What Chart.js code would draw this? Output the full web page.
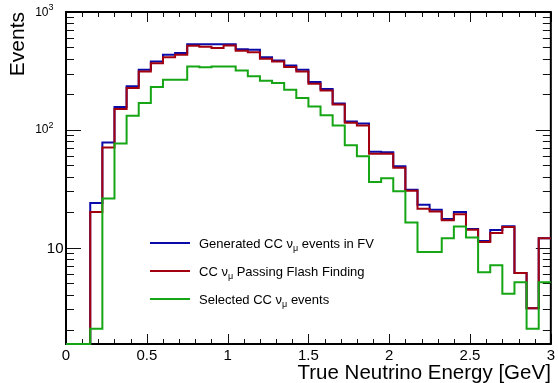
<!DOCTYPE html>
<html>
<head>
<meta charset="utf-8">
<script src="https://cdn.jsdelivr.net/npm/chart.js@4"></script>
<style>
  html, body { margin: 0; padding: 0; background: #fff; }
  #wrap { width: 558px; height: 383px; position: relative; }
</style>
</head>
<body>
<div id="wrap"><canvas id="myChart"></canvas></div>
<script>
// histogram binning: 40 bins of 0.075 GeV from 0 to 3
const binWidth = 0.075;

// events per bin (0 = empty bin)
const generatedFV = [0, 0, 24, 78, 156, 234, 323, 380, 433, 448,
  533, 533, 532, 533, 484, 478, 414, 388, 352, 323,
  255, 222, 167, 118, 113, 65.2, 64.6, 49.2, 31, 23.1,
  21, 17.5, 20.1, 14.4, 11.4, 14.1, 15.2, 6.1, 3.07, 12.05];
const passingFlash = [0, 0, 20.1, 70.8, 150, 226, 313, 368, 414, 433,
  516, 506, 494, 519, 468, 456, 401, 380, 341, 313,
  246, 216, 164, 115, 109, 62.7, 62.7, 47.7, 30.4, 21.4,
  20.3, 17.1, 19.2, 14.2, 11.2, 13.3, 15.0, 6.1, 3.07, 12.05];
const selectedCC = [0, 0, 2.05, 26.1, 76.6, 132, 169, 231, 266, 266,
  345, 340, 345, 345, 319, 285, 261, 250, 219, 186,
  158, 133, 109, 74.1, 59.8, 36.1, 38.8, 30.1, 16.4, 9.2,
  9.2, 12.05, 15.1, 12.2, 6.2, 7.1, 4.06, 5.1, 2.05, 5.1];

const seriesNames = ['Generated CC ν_μ events in FV', 'CC ν_μ Passing Flash Finding', 'Selected CC ν_μ events'];
const seriesColors = ['#0a0aa8', '#a3000f', '#15a515'];

const xTicks = [0, 0.5, 1, 1.5, 2, 2.5, 3];
const xTickLabels = ['0', '0.5', '1', '1.5', '2', '2.5', '3'];
const yMajor = [10, 100, 1000];
const yMajorLabels = ['10', '10^2', '10^3'];
const yMin = 1.524, yMax = 1000;

const FONT = "'Liberation Sans', Arial, sans-serif";

// bin low edges + closing point at the upper edge, step drawn by Chart.js
function toPoints(vals) {
  const pts = vals.map((v, i) => ({ x: i * binWidth, y: v > 0 ? v : yMin }));
  pts.push({ x: vals.length * binWidth, y: pts[pts.length - 1].y });
  return pts;
}

// frame + inward ticks on all four sides, ROOT style
const framePlugin = {
  id: 'frame',
  beforeDatasetsDraw(chart) {
    const { ctx, chartArea: a, scales: { x, y } } = chart;
    ctx.save();
    ctx.strokeStyle = '#111';
    ctx.lineWidth = 1;
    ctx.beginPath();
    for (let k = 0; k <= 30; k++) {
      const px = Math.round(x.getPixelForValue(k / 10)) + 0.5;
      const len = k % 5 === 0 ? 10 : 5;
      ctx.moveTo(px, a.bottom); ctx.lineTo(px, a.bottom - len);
      ctx.moveTo(px, a.top); ctx.lineTo(px, a.top + len);
    }
    for (let dec = 1; dec <= 1000; dec *= 10) {
      for (let m = 1; m <= 9; m++) {
        const v = m * dec;
        if (v < yMin || v > yMax) continue;
        const py = Math.round(y.getPixelForValue(v)) + 0.5;
        const len = m === 1 ? 15 : 8;
        ctx.moveTo(a.left, py); ctx.lineTo(a.left + len, py);
        ctx.moveTo(a.right, py); ctx.lineTo(a.right - len, py);
      }
    }
    ctx.stroke();
    ctx.lineWidth = 2;
    ctx.strokeStyle = '#000';
    ctx.strokeRect(a.left, a.top, a.right - a.left, a.bottom - a.top);
    ctx.restore();
  }
};

// text with "^n" superscripts and "_c" subscripts
function drawRich(ctx, text, x, y, size, align) {
  const parts = [];
  let i = 0;
  while (i < text.length) {
    const c = text[i];
    if ((c === '^' || c === '_') && i + 1 < text.length) {
      parts.push({ t: text[i + 1], kind: c });
      i += 2;
    } else {
      if (parts.length && parts[parts.length - 1].kind === '') parts[parts.length - 1].t += c;
      else parts.push({ t: c, kind: '' });
      i++;
    }
  }
  const small = Math.round(size * 0.72);
  let w = 0;
  parts.forEach(p => {
    ctx.font = (p.kind ? small : size) + 'px ' + FONT;
    p.w = ctx.measureText(p.t).width;
    w += p.w;
  });
  let cx = align === 'right' ? x - w : x;
  ctx.textAlign = 'left';
  ctx.textBaseline = 'alphabetic';
  parts.forEach(p => {
    ctx.font = (p.kind ? small : size) + 'px ' + FONT;
    let dy = 0;
    if (p.kind === '^') dy = -size * 0.45;
    if (p.kind === '_') dy = size * 0.3;
    ctx.fillText(p.t, cx, y + dy);
    cx += p.w;
  });
}

const labelsPlugin = {
  id: 'labels',
  afterDraw(chart) {
    const { ctx, scales: { y } } = chart;
    ctx.save();
    ctx.fillStyle = '#000';
    // y tick labels
    yMajor.forEach((v, i) => {
      const py = y.getPixelForValue(v);
      const txt = yMajorLabels[i];
      if (txt.includes('^')) drawRich(ctx, txt, 53.5, py + 3.5, 12, 'right');
      else drawRich(ctx, txt, 63.5, py + 5.5, 15, 'right');
    });
    // legend (no box)
    const rows = [243, 271, 299];
    chart.data.datasets.forEach((ds, i) => {
      ctx.strokeStyle = ds.borderColor;
      ctx.lineWidth = 2;
      ctx.beginPath();
      ctx.moveTo(150, rows[i]); ctx.lineTo(190, rows[i]);
      ctx.stroke();
      ctx.fillStyle = '#000';
      drawRich(ctx, seriesNames[i], 199, rows[i] + 4.5, 13, 'left');
    });
    ctx.restore();
  }
};

const series = [generatedFV, passingFlash, selectedCC];

new Chart(document.getElementById('myChart').getContext('2d'), {
  type: 'line',
  data: {
    datasets: series.map((vals, i) => ({
      label: seriesNames[i].replace('_', ''),
      data: toPoints(vals),
      stepped: 'before',
      borderColor: seriesColors[i],
      borderWidth: 2,
      pointRadius: 0,
      fill: false,
      clip: false,
      order: 3 - i
    }))
  },
  options: {
    responsive: true,
    maintainAspectRatio: false,
    animation: false,
    layout: { padding: { top: 12, right: 1, left: 0, bottom: 0 }, autoPadding: false },
    plugins: { legend: { display: false }, tooltip: { enabled: false } },
    scales: {
      x: {
        type: 'linear', min: 0, max: 3,
        grid: { display: false, drawTicks: false },
        border: { display: false },
        afterBuildTicks: s => { s.ticks = xTicks.map(v => ({ value: v })); },
        ticks: {
          color: '#000', font: { family: FONT, size: 15 }, padding: 3,
          maxRotation: 0, autoSkip: false,
          callback: v => xTickLabels[xTicks.indexOf(v)]
        },
        title: {
          display: true, text: 'True Neutrino Energy [GeV]', align: 'end',
          color: '#000', font: { family: FONT, size: 20.5, lineHeight: 0.9 }, padding: 0
        },
        afterFit: s => { s.height = 39; }
      },
      y: {
        type: 'logarithmic', min: yMin, max: yMax,
        grid: { display: false, drawTicks: false },
        border: { display: false },
        ticks: { display: false },
        title: {
          display: true, text: 'Events', align: 'end',
          color: '#000', font: { family: FONT, size: 21 }, padding: { top: 6, bottom: 0 }
        },
        afterFit: s => { s.width = 66; }
      }
    }
  },
  plugins: [framePlugin, labelsPlugin]
});
</script>
</body>
</html>
